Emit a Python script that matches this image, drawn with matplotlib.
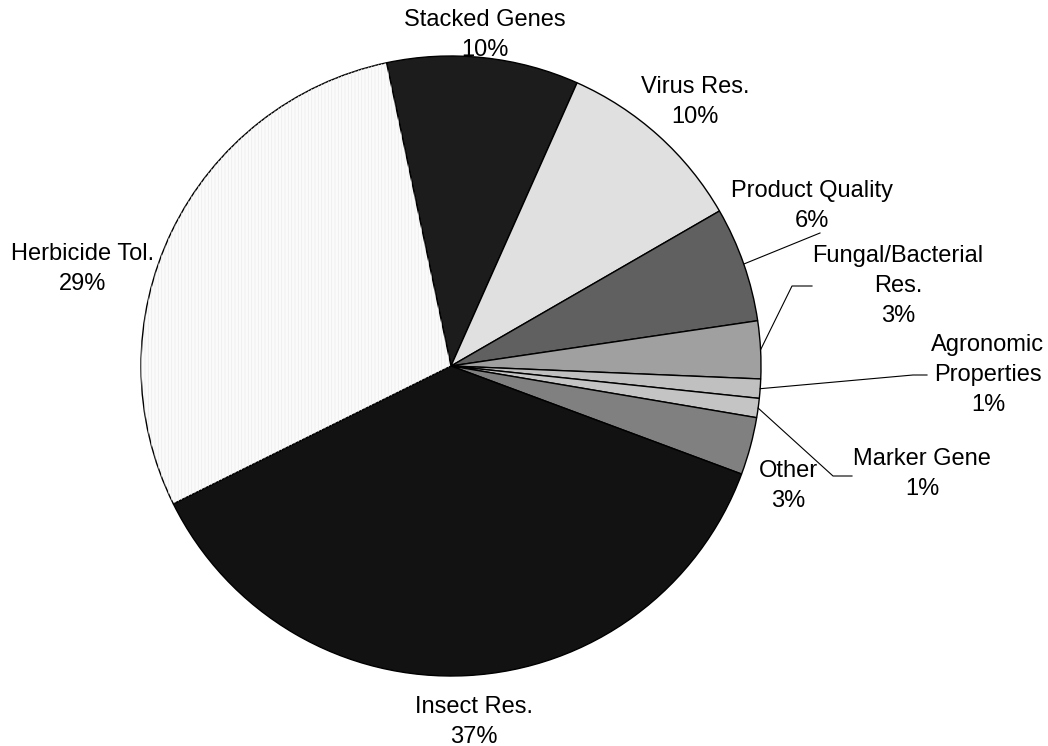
import numpy as np
import matplotlib.pyplot as plt
from matplotlib.patches import Wedge

# shares of each trait category, in percent (clockwise from the top)
categories = ["Stacked Genes", "Virus Res.", "Product Quality", "Fungal/Bacterial\nRes.",
              "Agronomic\nProperties", "Marker Gene", "Other", "Insect Res.", "Herbicide Tol."]
shares = [10, 10, 6, 3, 1, 1, 3, 37, 29]
colors = ["#1c1c1c", "#e0e0e0", "#606060", "#a0a0a0", "#c0c0c0",
          "#c4c4c4", "#808080", "#121212", "#fbfbfb"]

W, H = 1048, 746
CX, CY, R = 451, 366, 310


def px(x, y):
    """Convert image-style pixel position (y down) to data coordinates."""
    return x, H - y


# label text centres and optional leader elbows, in pixels
label_pos = [(485, 35), (695, 102), (812, 206), (898, 286), (988, 375),
             (922, 474), (788, 486), (474, 722), (83, 269)]
leaders = {2: [(820, 233)],
           3: [(812, 286), (792, 286)],
           4: [(927, 375), (913, 375)],
           5: [(852, 476), (833, 476)]}

plt.rcParams['font.family'] = ['Liberation Sans', 'DejaVu Sans']
plt.rcParams['hatch.linewidth'] = 0.5

fig = plt.figure(figsize=(W / 100, H / 100), dpi=100)
ax = fig.add_axes([0, 0, 1, 1])

wedges, _ = ax.pie(shares, colors=colors, startangle=102, counterclock=False,
                   center=px(CX, CY), radius=R, frame=True,
                   wedgeprops=dict(edgecolor='black', linewidth=1.0))
ax.set_xlim(0, W)
ax.set_ylim(0, H)
ax.set_aspect('equal')
ax.axis('off')

# faint vertical texture on the herbicide slice
hw = wedges[-1]
ax.add_patch(Wedge(hw.center, hw.r, hw.theta1, hw.theta2, facecolor='none',
                   edgecolor='#ececec', hatch='|||||', linewidth=0))

for i, (name, val) in enumerate(zip(categories, shares)):
    x, y = label_pos[i]
    ax.text(*px(x, y), f"{name}\n{val}%", ha='center', va='center',
            fontsize=17, linespacing=1.45, color='black')
    if i in leaders:
        w = wedges[i]
        mid = np.deg2rad((w.theta1 + w.theta2) / 2)
        ex = w.center[0] + w.r * np.cos(mid)
        ey = w.center[1] + w.r * np.sin(mid)
        pts = [px(*p) for p in leaders[i]] + [(ex, ey)]
        xs, ys = zip(*pts)
        ax.plot(xs, ys, color='black', linewidth=0.8)

fig.savefig("out.png", dpi=100)
